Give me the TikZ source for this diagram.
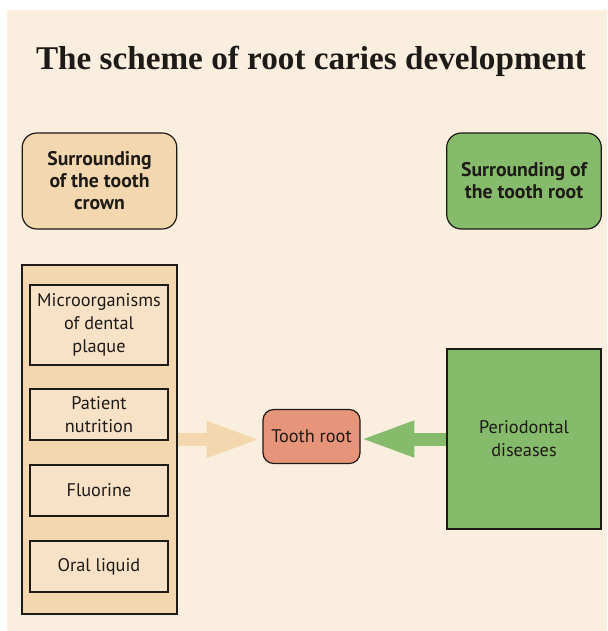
\documentclass[tikz,border=0pt]{standalone}
\usepackage{fontspec}
\setmainfont{Liberation Serif}
\setsansfont{PT Sans}
\usetikzlibrary{arrows.meta}
\definecolor{bgcream}{HTML}{FAEEDF}
\definecolor{crownbeige}{HTML}{F3D7AE}
\definecolor{itembeige}{HTML}{F8E2C7}
\definecolor{rootgreen}{HTML}{85BB6A}
\definecolor{rootsalmon}{HTML}{E6957A}
\definecolor{inkdark}{HTML}{1E1A17}

\tikzset{
    headbox/.style={draw=inkdark, line width=0.9pt, rounded corners=11pt, align=center,
        text=inkdark, font=\sffamily\bfseries\fontsize{14.8}{16.5}\selectfont,
        minimum width=116pt, minimum height=72pt, inner sep=0pt},
    itembox/.style={draw=inkdark, line width=0.9pt, fill=itembeige, align=center,
        text=inkdark, font=\sffamily\fontsize{13.7}{17.25}\selectfont,
        minimum width=103.5pt, inner sep=0pt},
    bigarrow/.style={line width=9.75pt, -{Triangle[length=38pt, width=28pt, line width=0pt]}}
}

\begin{document}
\begin{tikzpicture}[x=0.75pt, y=-0.75pt]
                \useasboundingbox (0, 0) rectangle (607, 631);
                \fill[bgcream] (7, 10) rectangle (607, 631);
                \node[anchor=base, text=inkdark, font=\bfseries\fontsize{24.9}{28}\selectfont] (title) at (311, 70)
                    {The scheme of root caries development};
                % upper headings
                \node[headbox, fill=crownbeige] (crownhead) at (99.5, 181) {Surrounding\\of the tooth\\crown};
                \node[headbox, fill=rootgreen] (roothead) at (524, 181) {Surrounding of\\the tooth root};
                % factors of the crown
                \node[draw=inkdark, line width=0.9pt, fill=crownbeige, minimum width=116.25pt,
                    minimum height=261.75pt, inner sep=0pt] (crowncol) at (99.5, 439.5) {};
                \node[itembox, minimum height=60pt] (plaque) at (99, 325) {Microorganisms\\of dental\\plaque};
                \node[itembox, minimum height=38.25pt] (nutrition) at (99, 414.5) {Patient\\nutrition};
                \node[itembox, minimum height=38.25pt] (fluorine) at (99, 490.5) {Fluorine};
                \node[itembox, minimum height=38.25pt] (liquid) at (99, 566.5) {Oral liquid};
                % root and its surrounding
                \node[draw=inkdark, line width=0.9pt, fill=rootsalmon, rounded corners=8pt, text=inkdark,
                    font=\sffamily\fontsize{13.7}{17.25}\selectfont, minimum width=72.75pt,
                    minimum height=40.5pt, inner sep=0pt] (toothroot) at (311.5, 436.5) {Tooth root};
                \node[draw=inkdark, line width=0.9pt, fill=rootgreen, align=center, text=inkdark,
                    font=\sffamily\fontsize{13.7}{17.25}\selectfont, minimum width=115.5pt,
                    minimum height=135pt, inner sep=0pt] (perio) at (524, 439) {Periodontal\\diseases};
                \draw[bigarrow, color=crownbeige, shorten >=3.75pt] (crowncol.east) -- (crowncol.east -| toothroot.west);
                \draw[bigarrow, color=rootgreen, shorten >=2.25pt] (perio.west) -- (perio.west -| toothroot.east);
            \end{tikzpicture}
\end{document}
